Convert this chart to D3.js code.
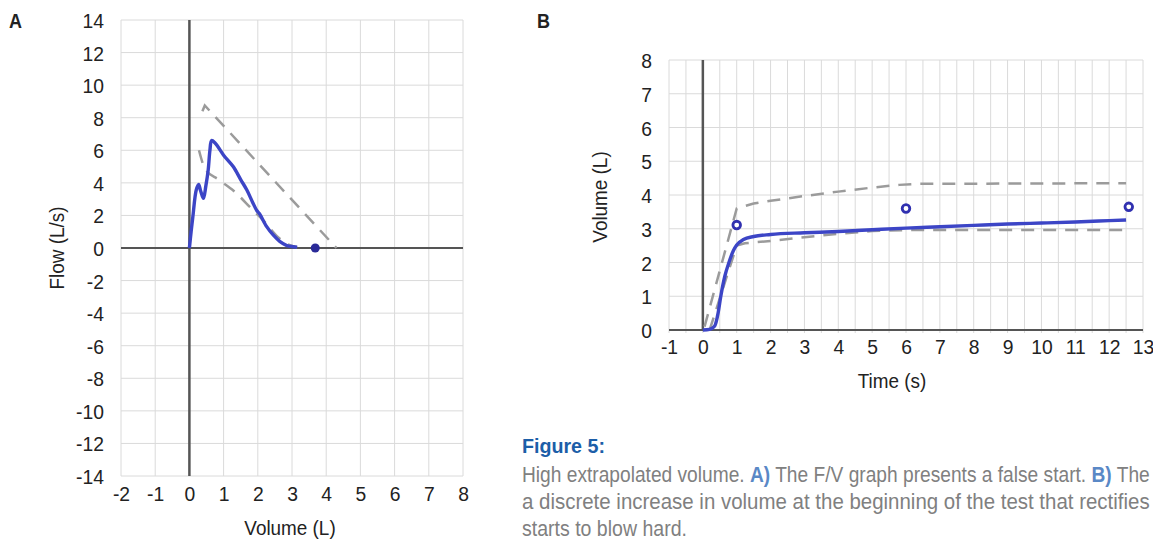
<!DOCTYPE html>
<html><head><meta charset="utf-8">
<script src="https://cdn.jsdelivr.net/npm/d3@7"></script>
<style>
html,body{margin:0;padding:0;background:#fff;}
svg{display:block;font-family:"Liberation Sans",Arial,sans-serif;}
</style></head>
<body>
<svg id="chart" width="1153" height="541"></svg>
<script>
// ---------- DATA ----------
// Panel A: flow-volume
const aXTicks = [-2,-1,0,1,2,3,4,5,6,7,8];
const aYTicks = [-14,-12,-10,-8,-6,-4,-2,0,2,4,6,8,10,12,14];
const fvVolume = [0,0.05,0.1,0.2,0.27,0.33,0.41,0.48,0.55,0.6,0.65,0.75,0.84,1.0,1.28,1.5,1.68,1.85,1.97,2.05,2.26,2.45,2.65,2.85,3.04,3.15];
const fvFlow   = [0,1.0,1.9,3.56,3.9,3.5,3.05,3.8,4.8,6.0,6.6,6.45,6.2,5.7,5.0,4.2,3.56,2.8,2.3,2.1,1.31,0.8,0.39,0.15,0.08,0.05];
const fvUpperVol  = [0.38,0.45,4.3];
const fvUpperFlow = [8.4,8.75,0];
const fvLowerVol  = [0.28,0.46,0.85,1.3,1.8,2.2,2.6,2.9,3.15];
const fvLowerFlow = [6.0,4.85,4.2,3.5,2.45,1.6,0.65,0.2,0.05];
const fvMarkerVol = [3.68];
const fvMarkerFlow = [0];

// Panel B: volume-time
const bXTicks = [-1,0,1,2,3,4,5,6,7,8,9,10,11,12,13];
const bYTicks = [0,1,2,3,4,5,6,7,8];
const vtTime   = [0,0.2,0.35,0.45,0.53,0.65,0.77,0.9,1.0,1.2,1.5,2,3,4,5,6,7,8,9,10,11,12,12.5];
const vtVolume = [0,0.02,0.12,0.5,1.0,1.6,2.0,2.35,2.52,2.68,2.77,2.83,2.88,2.92,2.97,3.02,3.06,3.1,3.14,3.17,3.2,3.24,3.26];
const vtUpperTime = [0.05,1.0,1.5,2,3,4,5,5.8,6.3,12.5];
const vtUpperVol  = [0.1,3.6,3.75,3.83,3.97,4.1,4.22,4.3,4.33,4.35];
const vtLowerTime = [0.2,1.0,1.24,2,3,4,5,6,12.5];
const vtLowerVol  = [0,2.5,2.57,2.64,2.75,2.85,2.93,2.96,2.96];
const vtMarkerTime = [1.0,6.0,12.58];
const vtMarkerVol  = [3.11,3.6,3.65];

// ---------- STYLE ----------
const BLUE = "#3c45c6", DASH = "#9b9b9b", GRID = "#dadada", AXIS = "#555";
const TICK_SZ = 21, TICK_SX = 0.92;
const fmt = d => String(d).replace("\u2212", "-");

const svg = d3.select("#chart");

function sqText(parent, x, y, str, opts){
  const g = parent.append("g").attr("transform", `translate(${x},${y})`);
  const t = g.append("text").text(str)
    .attr("font-size", opts.size).attr("fill", opts.fill || "#222")
    .attr("font-weight", opts.weight || "normal")
    .attr("text-anchor", opts.anchor || "start");
  let sx = opts.sx || 1;
  if (opts.width) sx = opts.width / t.node().getComputedTextLength();
  const rot = opts.rotate ? ` rotate(${opts.rotate})` : "";
  g.attr("transform", `translate(${x},${y})${rot} scale(${sx},1)`);
  return t;
}
function styleTicks(sel){
  sel.selectAll("text").attr("font-size", TICK_SZ).attr("fill", "#222")
    .attr("font-family", "Liberation Sans, Arial, sans-serif")
    .attr("transform", `scale(${TICK_SX},1)`);
}

// ---------- PANEL A ----------
const xA = d3.scaleLinear().domain([-2,8]).range([121,463]);
const yA = d3.scaleLinear().domain([-14,14]).range([476,20]);
const gA = svg.append("g");

gA.append("g").selectAll("line").data(aXTicks).join("line")
  .attr("x1", d=>xA(d)).attr("x2", d=>xA(d)).attr("y1", yA(14)).attr("y2", yA(-14))
  .attr("stroke", GRID).attr("stroke-width", 1);
gA.append("g").selectAll("line").data(aYTicks).join("line")
  .attr("x1", xA(-2)).attr("x2", xA(8)).attr("y1", d=>yA(d)).attr("y2", d=>yA(d))
  .attr("stroke", GRID).attr("stroke-width", 1);

gA.append("line").attr("x1", xA(-2)).attr("x2", xA(8)).attr("y1", yA(0)).attr("y2", yA(0))
  .attr("stroke", AXIS).attr("stroke-width", 2);
gA.append("line").attr("x1", xA(0)).attr("x2", xA(0)).attr("y1", yA(14)).attr("y2", yA(-14))
  .attr("stroke", AXIS).attr("stroke-width", 2.5);

const axAL = gA.append("g").attr("transform", `translate(${xA(-2)},0)`)
  .call(d3.axisLeft(yA).tickValues(aYTicks).tickFormat(fmt).tickSize(0).tickPadding(0));
axAL.select(".domain").remove();
styleTicks(axAL);
axAL.selectAll("text").attr("x", -17/TICK_SX).attr("dy", "0.36em");

const axAB = gA.append("g").attr("transform", `translate(0,${yA(-14)})`)
  .call(d3.axisBottom(xA).tickValues(aXTicks).tickFormat(fmt).tickSize(0));
axAB.select(".domain").remove();
styleTicks(axAB);
axAB.selectAll("text").attr("y", 25).attr("dy", 0).attr("x", 0);

const lineA = d3.line().x(d=>xA(d[0])).y(d=>yA(d[1]));
gA.append("path").datum(d3.zip(fvUpperVol, fvUpperFlow)).attr("d", lineA)
  .attr("fill","none").attr("stroke", DASH).attr("stroke-width", 2.5).attr("stroke-dasharray","13 9");
gA.append("path").datum(d3.zip(fvLowerVol, fvLowerFlow)).attr("d", lineA.curve(d3.curveMonotoneX))
  .attr("fill","none").attr("stroke", DASH).attr("stroke-width", 2.5).attr("stroke-dasharray","13 9");
gA.append("path").datum(d3.zip(fvVolume, fvFlow))
  .attr("d", d3.line().x(d=>xA(d[0])).y(d=>yA(d[1])).curve(d3.curveCatmullRom.alpha(0.5)))
  .attr("fill","none").attr("stroke", BLUE).attr("stroke-width", 3.4).attr("stroke-linejoin","round");
gA.append("g").selectAll("circle").data(d3.zip(fvMarkerVol, fvMarkerFlow)).join("circle")
  .attr("cx", d=>xA(d[0])).attr("cy", d=>yA(d[1])).attr("r", 4.5).attr("fill", "#2a2a98");

sqText(svg, 290, 535, "Volume (L)", {size:21, anchor:"middle", sx:0.9});
sqText(svg, 64, 248, "Flow (L/s)", {size:21, anchor:"middle", sx:0.9, rotate:-90});
sqText(svg, 9, 28, "A", {size:20, weight:"bold", sx:0.9});

// ---------- PANEL B ----------
const xB = d3.scaleLinear().domain([-1,13]).range([669,1143]);
const yB = d3.scaleLinear().domain([0,8]).range([330,60]);
const gB = svg.append("g");
const bXGrid = d3.range(-1, 13.01, 0.5);

gB.append("g").selectAll("line").data(bXGrid).join("line")
  .attr("x1", d=>xB(d)).attr("x2", d=>xB(d)).attr("y1", yB(8)).attr("y2", yB(0)+3)
  .attr("stroke", GRID).attr("stroke-width", 1);
gB.append("g").selectAll("line").data(bYTicks).join("line")
  .attr("x1", xB(-1)).attr("x2", xB(13)).attr("y1", d=>yB(d)).attr("y2", d=>yB(d))
  .attr("stroke", GRID).attr("stroke-width", 1);

gB.append("line").attr("x1", xB(-1)).attr("x2", xB(13)).attr("y1", yB(0)).attr("y2", yB(0))
  .attr("stroke", AXIS).attr("stroke-width", 2);
gB.append("line").attr("x1", xB(0)).attr("x2", xB(0)).attr("y1", yB(8)).attr("y2", yB(0))
  .attr("stroke", AXIS).attr("stroke-width", 2.5);

const axBL = gB.append("g").attr("transform", `translate(${xB(-1)},0)`)
  .call(d3.axisLeft(yB).tickValues(bYTicks).tickFormat(fmt).tickSize(0).tickPadding(0));
axBL.select(".domain").remove();
styleTicks(axBL);
axBL.selectAll("text").attr("x", -17/TICK_SX).attr("dy", "0.36em");

const axBB = gB.append("g").attr("transform", `translate(0,${yB(0)})`)
  .call(d3.axisBottom(xB).tickValues(bXTicks).tickFormat(fmt).tickSize(0));
axBB.select(".domain").remove();
styleTicks(axBB);
axBB.selectAll("text").attr("y", 24).attr("dy", 0).attr("x", 0);

const lineB = d3.line().x(d=>xB(d[0])).y(d=>yB(d[1]));
gB.append("path").datum(d3.zip(vtUpperTime, vtUpperVol)).attr("d", lineB)
  .attr("fill","none").attr("stroke", DASH).attr("stroke-width", 2.5).attr("stroke-dasharray","13 9");
gB.append("path").datum(d3.zip(vtLowerTime, vtLowerVol)).attr("d", lineB)
  .attr("fill","none").attr("stroke", DASH).attr("stroke-width", 2.5).attr("stroke-dasharray","13 9");
gB.append("path").datum(d3.zip(vtTime, vtVolume))
  .attr("d", d3.line().x(d=>xB(d[0])).y(d=>yB(d[1])).curve(d3.curveMonotoneX))
  .attr("fill","none").attr("stroke", BLUE).attr("stroke-width", 3.4);
gB.append("g").selectAll("circle").data(d3.zip(vtMarkerTime, vtMarkerVol)).join("circle")
  .attr("cx", d=>xB(d[0])).attr("cy", d=>yB(d[1])).attr("r", 3.8)
  .attr("fill", "#fff").attr("stroke", "#3030b0").attr("stroke-width", 2.8);

sqText(svg, 892, 388, "Time (s)", {size:21, anchor:"middle", sx:0.9});
sqText(svg, 607, 197, "Volume (L)", {size:21, anchor:"middle", sx:0.9, rotate:-90});
sqText(svg, 537, 28, "B", {size:20, weight:"bold", sx:0.9});

// ---------- CAPTION ----------
const CAP_GRAY = "#808080", CAP_BLUE = "#5a88c6";
sqText(svg, 522, 453, "Figure 5:", {size:21, weight:"bold", fill:"#1c5ea8", width:83});

function capLine(y, parts, width){
  const g = svg.append("g").attr("transform", `translate(522,${y})`);
  const t = g.append("text").attr("font-size", 22).attr("fill", CAP_GRAY);
  parts.forEach(p => t.append("tspan").text(p.t)
    .attr("fill", p.b ? CAP_BLUE : CAP_GRAY).attr("font-weight", p.b ? "bold" : "normal"));
  const sx = width / t.node().getComputedTextLength();
  g.attr("transform", `translate(522,${y}) scale(${sx},1)`);
}
capLine(482, [{t:"High extrapolated volume. "},{t:"A)",b:1},{t:" The F/V graph presents a false start. "},{t:"B)",b:1},{t:" The"}], 628);
capLine(509, [{t:"a discrete increase in volume at the beginning of the test that rectifies"}], 628);
capLine(536, [{t:"starts to blow hard."}], 165);
</script>
</body></html>
